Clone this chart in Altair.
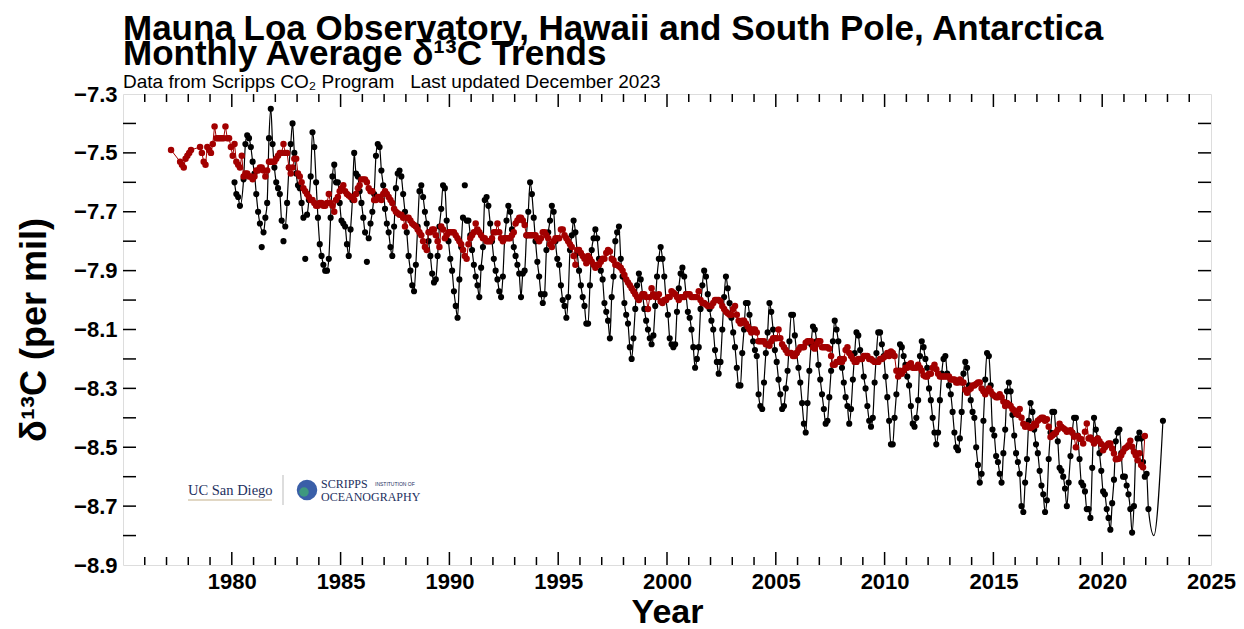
import altair as alt
import pandas as pd

# ---------------- Mauna Loa monthly d13C (Jan..Dec); None = no sample ----------------
MLO_1980 = [None, -7.60, -7.64, -7.65, -7.68, None, -7.59, -7.47, -7.44, -7.45, -7.48, -7.53]
MLO_1981 = [-7.57, -7.64, -7.70, -7.74, -7.82, -7.77, -7.72, -7.67, -7.45, -7.35, -7.47, -7.55]
MLO_1982 = [-7.60, -7.62, -7.64, -7.73, -7.80, -7.75, -7.67, -7.55, -7.47, -7.40, -7.50, -7.57]
MLO_1983 = [-7.61, -7.62, -7.67, -7.72, -7.86, -7.71, -7.66, -7.58, -7.43, -7.48, -7.60, -7.72]
MLO_1984 = [-7.81, -7.85, -7.88, -7.90, -7.90, -7.86, -7.72, -7.58, -7.54, -7.60, -7.60, -7.67]
MLO_1985 = [-7.73, -7.74, -7.75, -7.81, -7.85, -7.76, -7.66, -7.50, -7.57, -7.58, -7.63, -7.67]
MLO_1986 = [-7.72, -7.77, -7.87, -7.79, -7.74, -7.70, -7.64, -7.51, -7.47, -7.48, -7.56, -7.61]
MLO_1987 = [-7.69, -7.74, -7.77, -7.82, -7.85, -7.75, -7.62, -7.57, -7.56, -7.58, -7.64, -7.70]
MLO_1988 = [-7.77, -7.85, -7.90, -7.95, -7.97, -7.88, -7.75, -7.63, -7.61, -7.65, -7.70, -7.74]
MLO_1989 = [-7.80, -7.85, -7.91, -7.94, -7.93, -7.85, -7.75, -7.69, -7.61, -7.62, -7.73, -7.80]
MLO_1990 = [-7.86, -7.90, -7.97, -8.02, -8.06, -7.93, -7.82, -7.72, -7.61, -7.73, -7.73, -7.78]
MLO_1991 = [-7.83, -7.88, -7.92, -7.95, -7.99, -7.89, -7.82, -7.66, -7.65, -7.68, -7.74, -7.80]
MLO_1992 = [-7.86, -7.90, -7.93, -7.97, -7.99, -7.92, -7.79, -7.73, -7.68, -7.70, -7.76, -7.82]
MLO_1993 = [-7.85, -7.88, -7.91, -7.99, -7.91, -7.90, -7.78, -7.70, -7.60, -7.64, -7.72, -7.80]
MLO_1994 = [-7.87, -7.92, -7.98, -8.01, -7.98, -7.83, -7.77, -7.73, -7.68, -7.70, -7.80, -7.86]
MLO_1995 = [-7.88, -7.95, -8.00, -8.02, -8.06, -7.99, -7.83, -7.78, -7.73, -7.77, -7.84, -7.90]
MLO_1996 = [-7.95, -7.99, -8.02, -8.08, -8.08, -7.95, -7.83, -7.79, -7.76, -7.79, -7.86, -7.90]
MLO_1997 = [-7.93, -8.01, -8.04, -8.07, -8.13, -7.99, -7.92, -7.80, -7.77, -7.75, -7.86, -7.92]
MLO_1998 = [-8.01, -8.05, -8.08, -8.16, -8.20, -8.13, -8.03, -7.95, -7.91, -7.93, -7.98, -8.03]
MLO_1999 = [-8.07, -8.10, -8.13, -8.15, -8.12, -8.02, -7.92, -7.86, -7.82, -7.86, -7.92, -8.00]
MLO_2000 = [-8.05, -8.13, -8.15, -8.16, -8.15, -8.04, -7.96, -7.91, -7.89, -7.92, -7.98, -8.04]
MLO_2001 = [-8.06, -8.10, -8.16, -8.23, -8.20, -8.16, -8.03, -7.95, -7.90, -7.92, -7.98, -8.03]
MLO_2002 = [-8.07, -8.10, -8.17, -8.21, -8.25, -8.21, -8.10, -7.99, -7.92, -7.96, -8.01, -8.06]
MLO_2003 = [-8.11, -8.16, -8.23, -8.29, -8.29, -8.18, -8.10, -8.01, -8.01, -8.05, -8.10, -8.14]
MLO_2004 = [-8.17, -8.19, -8.32, -8.36, -8.37, -8.28, -8.18, -8.11, -8.01, -8.04, -8.10, -8.17]
MLO_2005 = [-8.21, -8.27, -8.32, -8.37, -8.36, -8.30, -8.24, -8.14, -8.05, -8.05, -8.12, -8.18]
MLO_2006 = [-8.23, -8.28, -8.35, -8.42, -8.45, -8.35, -8.24, -8.15, -8.09, -8.10, -8.14, -8.22]
MLO_2007 = [-8.27, -8.32, -8.37, -8.42, -8.41, -8.33, -8.24, -8.14, -8.07, -8.10, -8.14, -8.20]
MLO_2008 = [-8.23, -8.28, -8.33, -8.36, -8.42, -8.37, -8.27, -8.18, -8.11, -8.12, -8.17, -8.20]
MLO_2009 = [-8.26, -8.30, -8.36, -8.41, -8.43, -8.40, -8.28, -8.18, -8.11, -8.11, -8.15, -8.19]
MLO_2010 = [-8.26, -8.33, -8.41, -8.49, -8.49, -8.40, -8.32, -8.24, -8.15, -8.16, -8.19, -8.22]
MLO_2011 = [-8.26, -8.29, -8.36, -8.42, -8.43, -8.40, -8.34, -8.19, -8.14, -8.16, -8.20, -8.23]
MLO_2012 = [-8.30, -8.34, -8.40, -8.45, -8.49, -8.45, -8.34, -8.25, -8.20, -8.19, -8.25, -8.29]
MLO_2013 = [-8.32, -8.38, -8.45, -8.50, -8.51, -8.47, -8.38, -8.25, -8.21, -8.23, -8.29, -8.34]
MLO_2014 = [-8.38, -8.40, -8.50, -8.56, -8.62, -8.59, -8.41, -8.27, -8.18, -8.19, -8.29, -8.44]
MLO_2015 = [-8.46, -8.53, -8.55, -8.59, -8.62, -8.52, -8.44, -8.31, -8.28, -8.31, -8.39, -8.46]
MLO_2016 = [-8.52, -8.55, -8.59, -8.70, -8.72, -8.62, -8.54, -8.41, -8.35, -8.38, -8.44, -8.49]
MLO_2017 = [-8.52, -8.58, -8.63, -8.66, -8.72, -8.68, -8.54, -8.45, -8.38, -8.38, -8.45, -8.48]
MLO_2018 = [-8.57, -8.58, -8.60, -8.64, -8.70, -8.62, -8.53, -8.45, -8.40, -8.40, -8.46, -8.54]
MLO_2019 = [-8.62, -8.63, -8.65, -8.71, -8.71, -8.74, -8.57, -8.40, -8.44, -8.47, -8.52, -8.58]
MLO_2020 = [-8.65, -8.66, -8.71, -8.74, -8.78, -8.69, -8.61, -8.48, -8.45, -8.44, -8.52, -8.60]
MLO_2021 = [-8.60, -8.63, -8.66, -8.71, -8.79, -8.70, -8.52, -8.47, -8.45, -8.47, -8.55, -8.60]
MLO_2022 = [-8.59, -8.71, None, None, None, None, None, None, None, -8.41, None, None]

MLO = {
    1980: MLO_1980, 1981: MLO_1981, 1982: MLO_1982, 1983: MLO_1983, 1984: MLO_1984,
    1985: MLO_1985, 1986: MLO_1986, 1987: MLO_1987, 1988: MLO_1988, 1989: MLO_1989,
    1990: MLO_1990, 1991: MLO_1991, 1992: MLO_1992, 1993: MLO_1993, 1994: MLO_1994,
    1995: MLO_1995, 1996: MLO_1996, 1997: MLO_1997, 1998: MLO_1998, 1999: MLO_1999,
    2000: MLO_2000, 2001: MLO_2001, 2002: MLO_2002, 2003: MLO_2003, 2004: MLO_2004,
    2005: MLO_2005, 2006: MLO_2006, 2007: MLO_2007, 2008: MLO_2008, 2009: MLO_2009,
    2010: MLO_2010, 2011: MLO_2011, 2012: MLO_2012, 2013: MLO_2013, 2014: MLO_2014,
    2015: MLO_2015, 2016: MLO_2016, 2017: MLO_2017, 2018: MLO_2018, 2019: MLO_2019,
    2020: MLO_2020, 2021: MLO_2021, 2022: MLO_2022,
}
# samples lying off the fitted curve (dot only, curve skips them)
MLO_OFF_CURVE = [(1981, 5), (1982, 5), (1983, 5), (1986, 3), (1990, 9)]
# fitted curve where no sample exists
MLO_CURVE_ONLY = [(2022, 5, -8.80)]

# ---------------- South Pole monthly d13C ----------------
SPO_1977 = [None, None, -7.49, None, None, None, None, -7.53, -7.54, -7.55, -7.52, -7.51]
SPO_1978 = [-7.50, -7.49, None, None, None, None, -7.48, -7.50, -7.53, -7.54, -7.48, -7.49]
SPO_1979 = [-7.50, -7.47, -7.41, -7.45, -7.45, -7.45, -7.45, -7.45, -7.41, -7.45, -7.45, -7.48]
SPO_1980 = [-7.51, -7.47, -7.53, -7.54, -7.55, -7.51, -7.58, -7.57, -7.57, -7.58, -7.58, -7.59]
SPO_1981 = [-7.58, -7.56, -7.56, -7.55, -7.55, -7.56, -7.58, -7.56, -7.53, -7.53, -7.53, -7.53]
SPO_1982 = [-7.52, -7.51, -7.50, -7.50, -7.47, -7.50, -7.50, -7.55, -7.57, -7.55, -7.52, -7.52]
SPO_1983 = [-7.57, -7.58, -7.60, -7.62, -7.63, -7.64, -7.65, -7.66, -7.66, -7.67, -7.68, -7.68]
SPO_1984 = [-7.67, -7.67, -7.68, -7.68, -7.67, -7.64, -7.67, -7.68, -7.70, -7.66, -7.65, -7.63]
SPO_1985 = [-7.62, -7.61, -7.63, -7.64, -7.645, -7.65, -7.65, -7.66, -7.64, -7.62, -7.61, -7.59]
SPO_1986 = [-7.59, -7.59, -7.60, -7.62, -7.63, -7.63, -7.66, -7.66, -7.65, -7.65, -7.66, -7.64]
SPO_1987 = [-7.63, -7.64, -7.65, -7.66, -7.67, -7.69, -7.70, -7.705, -7.71, -7.71, -7.72, -7.75]
SPO_1988 = [-7.72, -7.72, -7.73, -7.74, -7.745, -7.75, -7.76, -7.77, -7.78, -7.80, -7.82, -7.83]
SPO_1989 = [-7.77, -7.77, -7.76, -7.76, -7.78, -7.80, -7.82, -7.75, -7.76, -7.79, -7.78, -7.77]
SPO_1990 = [-7.77, -7.77, -7.77, -7.78, -7.79, -7.80, -7.81, -7.83, -7.85, -7.86, -7.81, -7.79]
SPO_1991 = [-7.78, -7.77, -7.74, -7.76, -7.77, -7.78, -7.79, -7.79, -7.80, -7.80, -7.80, -7.79]
SPO_1992 = [-7.77, -7.77, -7.74, -7.77, -7.79, -7.80, -7.79, -7.79, -7.79, -7.79, -7.78, -7.77]
SPO_1993 = [-7.74, -7.73, -7.72, -7.72, -7.73, -7.745, -7.78, -7.78, -7.78, -7.78, -7.78, -7.78]
SPO_1994 = [-7.79, -7.80, -7.79, -7.77, -7.77, -7.78, -7.79, -7.81, -7.82, -7.80, -7.79, -7.79]
SPO_1995 = [-7.79, -7.76, -7.76, -7.78, -7.79, -7.80, -7.81, -7.82, -7.85, -7.88, -7.83, -7.83]
SPO_1996 = [-7.84, -7.85, -7.86, -7.875, -7.85, -7.86, -7.87, -7.88, -7.89, -7.88, -7.88, -7.87]
SPO_1997 = [-7.86, -7.86, -7.84, -7.83, -7.835, -7.86, -7.865, -7.88, -7.88, -7.885, -7.89, -7.90]
SPO_1998 = [-7.915, -7.93, -7.94, -7.95, -7.96, -7.97, -7.98, -7.99, -8.00, -7.99, -7.98, -7.98]
SPO_1999 = [-7.99, -8.03, -7.99, -7.96, -7.98, -7.99, -7.99, -7.98, -8.005, -8.01, -8.00, -8.00]
SPO_2000 = [-7.99, -7.99, -7.97, -7.975, -7.98, -7.99, -8.00, -7.99, -7.99, -7.99, -7.98, -7.98]
SPO_2001 = [-7.98, -7.99, -7.99, -7.99, -7.99, -7.97, -8.00, -8.01, -8.01, -8.015, -8.02, -8.02]
SPO_2002 = [-8.02, -8.01, -8.00, -8.00, -8.00, -8.005, -8.02, -8.03, -8.04, -8.045, -8.05, -8.05]
SPO_2003 = [-8.03, -8.02, -8.05, -8.07, -8.08, -8.07, -8.07, -8.08, -8.09, -8.10, -8.11, -8.10]
SPO_2004 = [-8.10, -8.11, -8.14, -8.14, -8.14, -8.14, -8.15, -8.15, -8.155, -8.14, -8.13, -8.13]
SPO_2005 = [-8.13, -8.10, -8.13, -8.15, -8.16, -8.17, -8.18, -8.18, -8.18, -8.19, -8.19, -8.18]
SPO_2006 = [-8.17, -8.16, -8.16, -8.16, -8.145, -8.14, -8.14, -8.14, -8.16, -8.165, -8.15, -8.14]
SPO_2007 = [-8.14, -8.16, -8.16, -8.16, -8.16, -8.165, -8.19, -8.22, -8.22, -8.21, -8.21, -8.20]
SPO_2008 = [-8.21, -8.20, -8.17, -8.16, -8.18, -8.19, -8.20, -8.21, -8.21, -8.20, -8.20, -8.20]
SPO_2009 = [-8.19, -8.19, -8.19, -8.20, -8.20, -8.205, -8.21, -8.21, -8.21, -8.20, -8.20, -8.195]
SPO_2010 = [-8.19, -8.18, -8.19, -8.175, -8.18, -8.19, -8.24, -8.26, -8.24, -8.25, -8.24, -8.23]
SPO_2011 = [-8.23, -8.22, -8.215, -8.23, -8.23, -8.23, -8.22, -8.23, -8.24, -8.255, -8.26, -8.26]
SPO_2012 = [-8.25, -8.25, -8.23, -8.22, -8.235, -8.25, -8.26, -8.26, -8.26, -8.26, -8.26, -8.26]
SPO_2013 = [-8.27, -8.27, -8.27, -8.28, -8.28, -8.27, -8.28, -8.28, -8.305, -8.315, -8.305, -8.30]
SPO_2014 = [-8.29, -8.29, -8.285, -8.28, -8.28, -8.30, -8.31, -8.32, -8.31, -8.30, -8.31, -8.32]
SPO_2015 = [-8.325, -8.33, -8.33, -8.32, -8.33, -8.345, -8.36, -8.35, -8.355, -8.36, -8.37, -8.375]
SPO_2016 = [-8.385, -8.39, -8.37, -8.40, -8.42, -8.43, -8.425, -8.43, -8.435, -8.43, -8.42, -8.425]
SPO_2017 = [-8.41, -8.405, -8.40, -8.40, -8.41, -8.405, -8.43, -8.465, -8.46, -8.455, -8.45, -8.44]
SPO_2018 = [-8.42, -8.43, -8.435, -8.44, -8.447, -8.445, -8.442, -8.451, -8.464, -8.50, -8.462, -8.47]
SPO_2019 = [-8.473, -8.487, -8.447, -8.419, -8.47, -8.467, -8.475, -8.487, -8.476, -8.47, -8.48, -8.489]
SPO_2020 = [-8.51, -8.50, -8.493, -8.487, -8.487, -8.504, -8.521, -8.541, -8.54, -8.538, -8.527, -8.515]
SPO_2021 = [-8.504, -8.50, -8.493, -8.478, -8.498, -8.515, -8.527, -8.544, -8.52, -8.56, -8.568, -8.462]

SPO = {
    1977: SPO_1977, 1978: SPO_1978, 1979: SPO_1979, 1980: SPO_1980, 1981: SPO_1981,
    1982: SPO_1982, 1983: SPO_1983, 1984: SPO_1984, 1985: SPO_1985, 1986: SPO_1986,
    1987: SPO_1987, 1988: SPO_1988, 1989: SPO_1989, 1990: SPO_1990, 1991: SPO_1991,
    1992: SPO_1992, 1993: SPO_1993, 1994: SPO_1994, 1995: SPO_1995, 1996: SPO_1996,
    1997: SPO_1997, 1998: SPO_1998, 1999: SPO_1999, 2000: SPO_2000, 2001: SPO_2001,
    2002: SPO_2002, 2003: SPO_2003, 2004: SPO_2004, 2005: SPO_2005, 2006: SPO_2006,
    2007: SPO_2007, 2008: SPO_2008, 2009: SPO_2009, 2010: SPO_2010, 2011: SPO_2011,
    2012: SPO_2012, 2013: SPO_2013, 2014: SPO_2014, 2015: SPO_2015, 2016: SPO_2016,
    2017: SPO_2017, 2018: SPO_2018, 2019: SPO_2019, 2020: SPO_2020, 2021: SPO_2021,
}

# axis tick positions / labels
X_LABELS = [1980, 1985, 1990, 1995, 2000, 2005, 2010, 2015, 2020, 2025]
X_MINOR = [y for y in range(1976, 2025) if y % 5 != 0]
X_MAJOR = [1980, 1985, 1990, 1995, 2000, 2005, 2010, 2015, 2020]
Y_LABELS = [-8.9, -8.7, -8.5, -8.3, -8.1, -7.9, -7.7, -7.5, -7.3]
Y_TICKS = [-8.8, -8.7, -8.6, -8.5, -8.4, -8.3, -8.2, -8.1, -8.0, -7.9, -7.8,
           -7.7, -7.6, -7.5, -7.4]

TITLE_LINES = ["Mauna Loa Observatory, Hawaii and South Pole, Antarctica",
               "Monthly Average \u03b4\u00b9\u00b3C Trends"]
SUBTITLE = "Data from Scripps CO\u2082 Program \u00a0\u00a0Last updated December 2023"

# ---------------- build tables ----------------
def to_rows(table):
    rows = []
    for yr, vals in table.items():
        for m, v in enumerate(vals, start=1):
            if v is not None:
                rows.append({"t": yr + (m - 0.5) / 12.0, "v": v, "yr": yr, "m": m})
    return pd.DataFrame(rows)

mlo_df = to_rows(MLO)
spo_df = to_rows(SPO)
off = set(MLO_OFF_CURVE)
curve_df = mlo_df[[(a, b) not in off for a, b in zip(mlo_df.yr, mlo_df.m)]][["t", "v"]]
extra = pd.DataFrame([{"t": y + (m - 0.5) / 12.0, "v": v} for y, m, v in MLO_CURVE_ONLY])
curve_df = pd.concat([curve_df, extra]).sort_values("t").reset_index(drop=True)

W, H = 1088, 471
FONT = "Liberation Sans"
RED = "#a30000"

xs = alt.Scale(domain=[1975, 2025], nice=False, zero=False)
ys = alt.Scale(domain=[-8.9, -7.3], nice=False, zero=False)

x_axis = alt.Axis(values=X_LABELS, format="d", ticks=False, domain=False, grid=False,
                  labelFont=FONT, labelFontSize=22, labelFontWeight="bold", labelColor="black",
                  labelPadding=6, labelFlush=False, title="Year", titleFont=FONT,
                  titleFontSize=34, titleFontWeight="bold", titleColor="black", titlePadding=3)
y_axis = alt.Axis(values=Y_LABELS, format=".1f", ticks=False, domain=False, grid=False,
                  labelFont=FONT, labelFontSize=22, labelFontWeight="bold", labelColor="black",
                  labelPadding=6, labelFlush=False, title="\u03b4\u00b9\u00b3C (per mil)",
                  titleFont=FONT, titleFontSize=36, titleFontWeight="bold", titleColor="black",
                  titlePadding=20)

X = alt.X("t:Q", scale=xs, axis=x_axis)
Y = alt.Y("v:Q", scale=ys, axis=y_axis)

curve = alt.Chart(curve_df).mark_line(color="black", strokeWidth=1.2, interpolate="monotone").encode(x=X, y=Y)
mlo_dots = alt.Chart(mlo_df).mark_circle(color="black", size=38, opacity=1).encode(x=X, y=Y)
spo_line = alt.Chart(spo_df).mark_line(color=RED, strokeWidth=1).encode(x=X, y=Y)
spo_dots = alt.Chart(spo_df).mark_circle(color=RED, size=42, opacity=1).encode(x=X, y=Y)

# inward ticks drawn on the frame
minor_df = pd.DataFrame({"t": X_MINOR})
major_df = pd.DataFrame({"t": X_MAJOR})
yt_df = pd.DataFrame({"v": Y_TICKS})
tick_layers = []
for df, ln in ((minor_df, 8), (major_df, 13)):
    tick_layers.append(alt.Chart(df).mark_rule(color="black", strokeWidth=1.5).encode(
        x=X, y=alt.value(H), y2=alt.value(H - ln)))
    tick_layers.append(alt.Chart(df).mark_rule(color="black", strokeWidth=1.5).encode(
        x=X, y=alt.value(0), y2=alt.value(ln)))
tick_layers.append(alt.Chart(yt_df).mark_rule(color="black", strokeWidth=1.5).encode(
    y=Y, x=alt.value(0), x2=alt.value(13)))
tick_layers.append(alt.Chart(yt_df).mark_rule(color="black", strokeWidth=1.5).encode(
    y=Y, x=alt.value(W), x2=alt.value(W - 13)))

# logo block (UC San Diego | Scripps)
one = pd.DataFrame({"a": [0]})
NAVY = "#1c2f5e"
logo = [
    alt.Chart(one).mark_text(text="UC San Diego", font="Liberation Serif", fontSize=14.5,
                             color=NAVY, align="left", baseline="alphabetic").encode(
        x=alt.value(65), y=alt.value(401)),
    alt.Chart(one).mark_rule(color="#c3b08a", strokeWidth=1).encode(
        x=alt.value(65), x2=alt.value(149), y=alt.value(406)),
    alt.Chart(one).mark_rule(color="#bbbbbb", strokeWidth=1).encode(
        x=alt.value(160), y=alt.value(381), y2=alt.value(411)),
    alt.Chart(one).mark_circle(color="#3a5fa8", size=420, opacity=1).encode(
        x=alt.value(184), y=alt.value(396)),
    alt.Chart(one).mark_circle(color="#3fa07a", size=90, opacity=0.9).encode(
        x=alt.value(181), y=alt.value(398)),
    alt.Chart(one).mark_text(text="SCRIPPS", font="Liberation Serif", fontSize=12,
                             color=NAVY, align="left", baseline="alphabetic").encode(
        x=alt.value(198), y=alt.value(393.5)),
    alt.Chart(one).mark_text(text="INSTITUTION OF", font="Liberation Sans", fontSize=5,
                             color=NAVY, align="left", baseline="alphabetic").encode(
        x=alt.value(252), y=alt.value(392)),
    alt.Chart(one).mark_text(text="OCEANOGRAPHY", font="Liberation Serif", fontSize=12,
                             color=NAVY, align="left", baseline="alphabetic").encode(
        x=alt.value(198), y=alt.value(407)),
]

chart = alt.layer(curve, mlo_dots, spo_line, spo_dots, *tick_layers, *logo).properties(
    width=W, height=H,
    padding={"left": 115, "top": 86, "right": 25, "bottom": 64},
    autosize=alt.AutoSizeParams(type="none"),
    title=alt.TitleParams(text=TITLE_LINES, subtitle=SUBTITLE, anchor="start", frame="group",
                          font=FONT, fontSize=35, fontWeight="bold", color="black",
                          lineHeight=25, subtitleFont=FONT, subtitleFontSize=19,
                          subtitleColor="black", subtitlePadding=1, offset=-9),
).configure_view(stroke="black", strokeWidth=1.5).configure(background="white")

chart.save("out.html", embed_options={"renderer": "svg", "actions": False})
